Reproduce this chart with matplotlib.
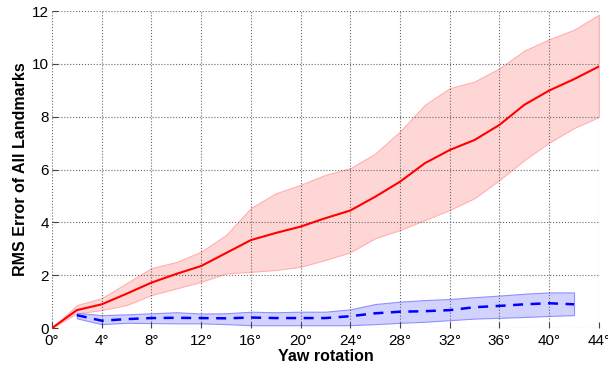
import matplotlib
matplotlib.use('Agg')
import matplotlib.pyplot as plt

plt.rcParams['font.family'] = ['Liberation Sans', 'DejaVu Sans']

# Werte
yaw = [0, 2, 4, 6, 8, 10, 12, 14, 16, 18, 20, 22, 24, 26, 28, 30, 32, 34, 36, 38, 40, 42, 44]
red_mean = [0, 0.68, 0.9, 1.3, 1.72, 2.05, 2.35, 2.84, 3.33, 3.6, 3.84, 4.16, 4.45, 4.97, 5.54,
            6.24, 6.74, 7.12, 7.69, 8.45, 8.99, 9.42, 9.9]
red_upper = [0, 0.87, 1.13, 1.7, 2.27, 2.5, 2.89, 3.52, 4.54, 5.1, 5.42, 5.8, 6.05, 6.6, 7.44,
             8.45, 9.08, 9.33, 9.83, 10.5, 10.93, 11.29, 11.86]
red_lower = [0, 0.56, 0.68, 0.87, 1.25, 1.5, 1.75, 2.07, 2.13, 2.2, 2.32, 2.58, 2.87, 3.4, 3.71,
             4.09, 4.47, 4.92, 5.6, 6.36, 7.02, 7.57, 7.99]

yaw_blue = [2, 4, 6, 8, 10, 12, 14, 16, 18, 20, 22, 24, 26, 28, 30, 32, 34, 36, 38, 40, 42]
blue_mean = [0.49, 0.28, 0.34, 0.38, 0.39, 0.38, 0.37, 0.4, 0.38, 0.38, 0.38, 0.45, 0.56, 0.62,
             0.64, 0.68, 0.79, 0.84, 0.9, 0.94, 0.9]
blue_upper = [0.58, 0.49, 0.52, 0.56, 0.6, 0.55, 0.56, 0.62, 0.6, 0.62, 0.62, 0.71, 0.91, 1.0,
              1.06, 1.1, 1.17, 1.23, 1.3, 1.35, 1.35]
blue_lower = [0.37, 0.15, 0.2, 0.19, 0.18, 0.18, 0.15, 0.11, 0.11, 0.11, 0.11, 0.11, 0.15, 0.2,
              0.24, 0.3, 0.36, 0.39, 0.42, 0.46, 0.49]

xticks = list(range(0, 45, 4))
yticks = list(range(0, 13, 2))

fig = plt.figure(figsize=(6.08, 3.67), dpi=100)
ax = fig.add_axes([0.0855, 0.106, 0.8995, 0.864])

ax.fill_between(yaw, red_lower, red_upper, facecolor='#ffd6d6', edgecolor='#ffb0b0', lw=0.8)
ax.fill_between(yaw_blue, blue_lower, blue_upper, facecolor='#d2d2ff', edgecolor='#9090ff', lw=0.8)
ax.plot(yaw, red_mean, color='red', lw=1.5)
ax.plot(yaw_blue, blue_mean, color='blue', lw=1.8, ls='--', dashes=(4, 3))

ax.set_xlim(0, 44)
ax.set_ylim(0, 12)
ax.set_xticks(xticks)
ax.set_xticklabels([f'{t}°' for t in xticks])
ax.set_yticks(yticks)
ax.grid(True, color='#666666', ls=':', lw=0.8)
for s in ax.spines.values():
    s.set_visible(False)
ax.tick_params(direction='in', length=4, width=0.8, color='#444444', labelsize=11)
ax.tick_params(axis='x', pad=4)
ax.tick_params(axis='y', pad=2)
ax.set_xlabel('Yaw rotation', fontsize=11.5, fontweight='bold', labelpad=1)
ax.set_ylabel('RMS Error of All Landmarks', fontsize=11.5, fontweight='bold', labelpad=3)

fig.savefig('out.png', dpi=100)
